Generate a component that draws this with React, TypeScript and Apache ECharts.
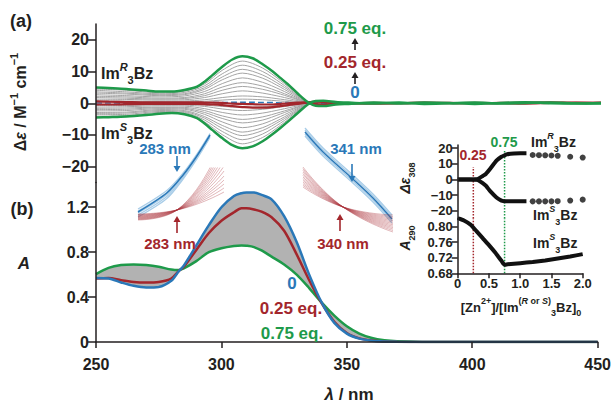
import React, { useEffect, useRef } from 'react';
import * as echarts from 'echarts';

const FONT = '"Liberation Sans", Arial, Helvetica, sans-serif';
const INK = '#231f20';
const GREEN = '#1e9a4a';
const RED = '#a3262c';
const BLUE = '#2a78b8';
const GRAY = '#a4a4a4';
const LIGHTBLUE = '#a9cde8';
const FANRED = 'rgba(170,50,58,0.45)';

// ---------- (a) CD spectra ----------
const cdX = [250,255,262,270,275,280,285,290,293,296,300,304,308,312,316,320,323,326,330,334,337,340,345,350,360,370,380,390,400,410,420,430,440,450];
const cdGreenR = [5.0,4.8,4.5,4.0,3.7,3.7,4.2,5.2,6.8,8.8,11.5,13.8,14.8,14.2,12.3,10.0,8.0,6.0,3.0,0.3,-0.8,-0.9,-0.4,-0.2,0.2,-0.1,0.2,0.1,-0.2,0.1,0.3,0.0,-0.1,0.1];
const cdGreenS = [-4.5,-4.4,-4.2,-3.7,-3.3,-3.1,-3.5,-4.7,-6.4,-8.4,-11.0,-13.2,-14.2,-13.6,-12.0,-9.7,-7.8,-5.8,-3.0,-0.3,0.7,0.8,0.4,0.2,-0.1,0.2,-0.2,0.0,0.2,-0.1,0.1,0.2,0.0,-0.1];
const cdRedR = [0.6,0.5,0.4,0.3,0.3,0.3,0.3,0.3,0.2,0.2,0.1,-0.1,-0.2,-0.3,-0.4,-0.4,-0.2,0.0,0.2,0.3,-0.3,-0.4,-0.2,0.0,0.1,0.0,0.2,0.1,0.0,0.1,0.2,0.3,0.1,0.2];
const cdRedS = [-0.4,-0.4,-0.3,-0.2,-0.2,-0.2,-0.2,-0.2,-0.3,-0.4,-0.6,-0.9,-1.2,-1.4,-1.4,-1.2,-0.9,-0.6,-0.2,0.3,0.5,0.4,0.1,0.0,-0.1,0.0,0.1,0.0,0.1,0.0,-0.1,0.1,0.2,0.1];
const cdBlue = [0.1,0.1,0.0,0.0,0.1,0.0,0.0,0.1,0.1,0.2,0.2,0.3,0.3,0.3,0.2,0.2,0.1,0.1,0.0,0.0,0,0,0,0,0,0,0,0,0,0,0,0,0,0];

const cdGrayX = [250,262,275,285,293,300,308,316,323,330,334,340,450];
const cdGrayR = [
  [4.5,4.1,3.3,3.8,6.1,10.4,13.3,11.1,7.2,2.7,0.3,0,0],
  [4.1,3.6,3.0,3.4,5.5,9.3,12.0,10.0,6.5,2.4,0.2,0,0],
  [3.6,3.2,2.7,3.0,4.9,8.3,10.7,8.9,5.8,2.2,0.2,0,0],
  [3.2,2.9,2.4,2.7,4.4,7.4,9.5,7.9,5.1,1.9,0.2,0,0],
  [2.7,2.4,2.0,2.3,3.7,6.2,8.0,6.6,4.3,1.6,0.2,0,0],
  [2.2,2.0,1.6,1.8,3.0,5.1,6.5,5.4,3.5,1.3,0.1,0,0],
  [1.8,1.6,1.3,1.5,2.4,4.1,5.3,4.4,2.9,1.1,0.1,0,0],
  [1.3,1.2,1.0,1.1,1.8,3.0,3.9,3.2,2.1,0.8,0.1,0,0],
  [0.8,0.7,0.6,0.7,1.1,1.8,2.3,2.0,1.3,0.5,0.0,0,0],
  [0.5,0.4,0.3,0.4,0.6,1.0,1.3,1.1,0.7,0.3,0.0,0,0],
];
const cdGrayS = [
  [-4.1,-3.9,-2.9,-3.2,-5.9,-9.9,-12.8,-10.8,-7.0,-2.7,-0.3,0,0],
  [-3.6,-3.5,-2.6,-2.9,-5.3,-8.9,-11.5,-9.7,-6.3,-2.4,-0.2,0,0],
  [-3.2,-3.1,-2.3,-2.6,-4.7,-7.9,-10.2,-8.6,-5.6,-2.2,-0.2,0,0],
  [-2.9,-2.8,-2.0,-2.3,-4.2,-7.0,-9.1,-7.7,-5.0,-1.9,-0.2,0,0],
  [-2.4,-2.3,-1.7,-1.9,-3.5,-5.9,-7.7,-6.5,-4.2,-1.6,-0.2,0,0],
  [-2.0,-1.9,-1.4,-1.6,-2.9,-4.8,-6.2,-5.3,-3.4,-1.3,-0.1,0,0],
  [-1.6,-1.5,-1.2,-1.3,-2.3,-4.0,-5.1,-4.3,-2.8,-1.1,-0.1,0,0],
  [-1.2,-1.1,-0.8,-0.9,-1.7,-2.9,-3.7,-3.1,-2.0,-0.8,-0.1,0,0],
  [-0.7,-0.7,-0.5,-0.6,-1.0,-1.8,-2.3,-1.9,-1.2,-0.5,0.0,0,0],
  [-0.4,-0.4,-0.3,-0.3,-0.6,-1.0,-1.3,-1.1,-0.7,-0.3,0.0,0,0],
];
const cdTicks = [-20, -10, 0, 10, 20];

// ---------- (b) absorption spectra ----------
const absX = [250,255,260,265,270,275,280,283,285,290,295,300,305,308,310,313,316,320,325,330,335,340,345,350,355,360,365,370,380,400,450];
const absBlue = [0.57,0.565,0.53,0.50,0.485,0.49,0.545,0.63,0.68,0.86,1.04,1.20,1.30,1.325,1.33,1.33,1.31,1.27,1.12,0.89,0.60,0.35,0.17,0.075,0.03,0.012,0.005,0.002,0,0,0];
const absRed = [0.565,0.57,0.55,0.535,0.53,0.535,0.565,0.632,0.67,0.82,0.97,1.08,1.155,1.19,1.19,1.18,1.16,1.11,0.99,0.78,0.55,0.345,0.18,0.08,0.032,0.013,0.005,0.002,0,0,0];
const absGreen = [0.605,0.66,0.685,0.69,0.685,0.67,0.645,0.64,0.655,0.72,0.80,0.835,0.855,0.86,0.857,0.845,0.815,0.76,0.69,0.60,0.48,0.35,0.235,0.14,0.075,0.035,0.015,0.006,0.001,0,0];
const absTicks = [0, 0.4, 0.8, 1.2];
const xTicks = [250, 300, 350, 400, 450];

// ---------- zoomed insets ----------
const inLX = [278.0, 281.0, 282.7, 284.1, 285.5];
const inLBlueDark = [0.614, 0.633, 0.651, 0.6695, 0.691];
const inLBlueLight = [
  [0.617, 0.6355, 0.653, 0.6715, 0.6925],
  [0.615, 0.6335, 0.6515, 0.6705, 0.6915],
  [0.613, 0.6315, 0.650, 0.669, 0.6905],
  [0.611, 0.6295, 0.6485, 0.668, 0.6895],
  [0.609, 0.6275, 0.647, 0.6665, 0.6885],
];
const inLFanX = [278, 282.06, 286.96];
const inLFanCross = 0.616;
const inLFanLeft = [0.612,0.6115,0.611,0.6105,0.610,0.6095,0.609,0.6085,0.608,0.6075,0.607,0.6065,0.606];
const inLFanRight = [0.634,0.638,0.642,0.646,0.650,0.655,0.660,0.665,0.670,0.675,0.680,0.685,0.690];

const inRX = [336.52, 338.4, 341.39, 343.6, 345.58];
const inRBlueDark = [0.406, 0.386, 0.360, 0.340, 0.319];
const inRBlueLight = [
  [0.410, 0.390, 0.364, 0.344, 0.323],
  [0.408, 0.388, 0.362, 0.342, 0.321],
  [0.404, 0.384, 0.358, 0.338, 0.317],
  [0.402, 0.382, 0.356, 0.336, 0.315],
];
const inRFanX = [336.31, 340.48, 345.69];
const inRFanCross = 0.331;
const inRFanLeft = [0.351,0.3527,0.3543,0.356,0.3577,0.3593,0.361,0.3627,0.3643,0.366,0.3677,0.3693,0.371];
const inRFanRight = [0.323,0.3216,0.3202,0.3188,0.3174,0.316,0.3146,0.3132,0.3118,0.3104,0.309,0.3075,0.306];

// ---------- titration inset ----------
const tDenseX = [0,0.1,0.2,0.3,0.33,0.4,0.45,0.52,0.62,0.7,0.75,0.78,0.9,1.0,1.1];
const tDenseR = [0,0,0,0.2,0.5,2.2,3.5,6.8,12,14.5,15.4,16,16.6,16.8,16.8];
const tDenseS = [0,0,0,-0.2,-0.5,-2.4,-4,-7.5,-11.5,-13.5,-13.9,-14,-14,-14,-14];
const tSparseX = [1.2,1.3,1.4,1.5,1.6,1.8,2.0];
const tSparseR = [15.6,15.5,15.4,15.3,15.1,14.5,14.0];
const tSparseS = [-14,-14,-14,-14,-13.9,-13.5,-12.9];
const tAX = [0,0.1,0.2,0.25,0.3,0.4,0.5,0.6,0.7,0.75,0.8,1.0,1.2,1.4,1.6,1.8,2.0];
const tA = [0.822,0.815,0.805,0.797,0.788,0.770,0.752,0.733,0.712,0.702,0.703,0.706,0.709,0.713,0.718,0.723,0.729];
const tDeTicks = [-20, -10, 0, 10, 20];
const tATicks = [0.68, 0.72, 0.76, 0.80];
const tXTicks = [0, 0.5, 1.0, 1.5, 2.0];
const tMarkRed = 0.25;
const tMarkGreen = 0.75;

const pairs = (xs: number[], ys: number[]) => xs.map((x, i) => [x, ys[i]]);
const minus = (v: number) => (v < 0 ? '\u2212' + Math.abs(v) : String(v));

function line(g: number, data: any[], color: string, width: number, extra: any = {}) {
  return {
    type: 'line', xAxisIndex: g, yAxisIndex: g, data, symbol: 'none', showSymbol: false,
    smooth: 0.3, silent: true, lineStyle: { color, width }, ...extra,
  };
}

function hiddenAxis(g: number, min: number, max: number) {
  return { gridIndex: g, type: 'value', min, max, show: false };
}

function visY(g: number, min: number, max: number, ticks: number[], size: number, fmt: (v: number) => string, tickLen: number, margin: number) {
  return {
    gridIndex: g, type: 'value', min, max, z: 10,
    axisLine: { show: true, lineStyle: { color: INK, width: 1.5 } },
    axisTick: { show: true, length: tickLen, customValues: ticks, lineStyle: { color: INK, width: 1.5 } },
    axisLabel: { show: true, customValues: ticks, formatter: fmt, fontSize: size, fontWeight: 'bold', fontFamily: FONT, color: INK, margin },
    splitLine: { show: false },
  };
}

function text(x: number, y: number, t: string, size: number, color: string, align = 'center', extra: any = {}) {
  return {
    type: 'text', x, y, z: 100, silent: true,
    style: { text: t, fill: color, font: `bold ${size}px ${FONT}`, textAlign: align, textVerticalAlign: 'middle', align, verticalAlign: 'middle' },
    ...extra,
  };
}

function rich(x: number, y: number, t: string, size: number, color: string, align = 'center', extra: any = {}) {
  const sm = Math.round(size * 0.66);
  const base = { fontFamily: FONT, fontWeight: 'bold', fill: color, color };
  return {
    type: 'text', x, y, z: 100, silent: true,
    style: {
      text: t, fill: color, font: `bold ${size}px ${FONT}`, textAlign: align, textVerticalAlign: 'middle', align, verticalAlign: 'middle',
      rich: {
        n: { ...base, fontSize: size, lineHeight: size + 8, verticalAlign: 'middle' },
        i: { ...base, fontSize: size, fontStyle: 'italic', lineHeight: size + 8, verticalAlign: 'middle' },
        sup: { ...base, fontSize: sm, lineHeight: sm, verticalAlign: 'top' },
        supi: { ...base, fontSize: sm, fontStyle: 'italic', lineHeight: sm, verticalAlign: 'top' },
        sub: { ...base, fontSize: sm, lineHeight: sm, verticalAlign: 'bottom' },
      },
    },
    ...extra,
  };
}

function arrow(x: number, yFrom: number, yTo: number, color: string) {
  const dir = yTo > yFrom ? 1 : -1;
  const head = 6;
  return [
    { type: 'line', z: 100, silent: true, shape: { x1: x, y1: yFrom, x2: x, y2: yTo - dir * head }, style: { stroke: color, lineWidth: 1.6 } },
    { type: 'polygon', z: 100, silent: true, shape: { points: [[x - 3.5, yTo - dir * head], [x + 3.5, yTo - dir * head], [x, yTo]] }, style: { fill: color } },
  ];
}

export default function App() {
  const ref = useRef<HTMLDivElement>(null);
  useEffect(() => {
    if (!ref.current) return;
    const chart = echarts.init(ref.current, undefined, { renderer: 'svg' });

    const absLow = absX.map((_, i) => Math.min(absBlue[i], absRed[i], absGreen[i]));
    const absHigh = absX.map((_, i) => Math.max(absBlue[i], absRed[i], absGreen[i]));

    const series: any[] = [];
    // (a)
    cdGrayR.forEach((ys) => series.push(line(0, pairs(cdGrayX, ys), GRAY, 1)));
    cdGrayS.forEach((ys) => series.push(line(0, pairs(cdGrayX, ys), GRAY, 1)));
    series.push(line(0, pairs(cdX, cdBlue), BLUE, 1.5, { lineStyle: { color: BLUE, width: 1.5, type: 'dashed' } }));
    series.push(line(0, pairs(cdX, cdRedR), RED, 2.2));
    series.push(line(0, pairs(cdX, cdRedS), RED, 2.2));
    series.push(line(0, pairs(cdX, cdGreenR), GREEN, 2.5));
    series.push(line(0, pairs(cdX, cdGreenS), GREEN, 2.5));
    // (b): gray band between the outer spectra
    series.push(line(1, pairs(absX, absHigh), GRAY, 0, { lineStyle: { width: 0, opacity: 0 }, areaStyle: { color: '#b2b2b2', opacity: 1, origin: 'start' } }));
    series.push(line(1, pairs(absX, absLow), GRAY, 0, { lineStyle: { width: 0, opacity: 0 }, areaStyle: { color: '#ffffff', opacity: 1, origin: 'start' } }));
    series.push(line(1, pairs(absX, absGreen), GREEN, 2.5));
    series.push(line(1, pairs(absX, absRed), RED, 2.5));
    series.push(line(1, pairs(absX, absBlue), BLUE, 2.5));
    // left inset
    inLBlueLight.forEach((ys) => series.push(line(2, pairs(inLX, ys), LIGHTBLUE, 1.3)));
    series.push(line(2, pairs(inLX, inLBlueDark), BLUE, 1.5));
    inLFanLeft.forEach((l, k) => series.push(line(3, pairs(inLFanX, [l, inLFanCross, inLFanRight[k]]), FANRED, 0.8, { smooth: 0.5 })));
    // right inset
    inRBlueLight.forEach((ys) => series.push(line(4, pairs(inRX, ys), LIGHTBLUE, 1.3)));
    series.push(line(4, pairs(inRX, inRBlueDark), BLUE, 1.5));
    inRFanLeft.forEach((l, k) => series.push(line(4, pairs(inRFanX, [l, inRFanCross, inRFanRight[k]]), FANRED, 0.8, { smooth: 0.5 })));
    // titration
    series.push(line(5, [[tMarkRed, -25], [tMarkRed, 8]], RED, 1.5, { smooth: false, lineStyle: { color: RED, width: 1.5, type: 'dotted' } }));
    series.push(line(6, [[tMarkRed, 0.68], [tMarkRed, 0.82]], RED, 1.5, { smooth: false, lineStyle: { color: RED, width: 1.5, type: 'dotted' } }));
    series.push(line(5, [[tMarkGreen, -25], [tMarkGreen, 19]], GREEN, 1.5, { smooth: false, lineStyle: { color: GREEN, width: 1.5, type: 'dotted' } }));
    series.push(line(6, [[tMarkGreen, 0.68], [tMarkGreen, 0.82]], GREEN, 1.5, { smooth: false, lineStyle: { color: GREEN, width: 1.5, type: 'dotted' } }));
    series.push(line(5, pairs(tDenseX, tDenseR), '#111', 4, { smooth: 0.2 }));
    series.push(line(5, pairs(tDenseX, tDenseS), '#111', 4, { smooth: 0.2 }));
    series.push(line(6, pairs(tAX, tA), '#111', 4, { smooth: 0.2 }));
    series.push({ type: 'scatter', xAxisIndex: 5, yAxisIndex: 5, data: pairs(tSparseX, tSparseR), symbolSize: 6, itemStyle: { color: '#111' }, silent: true });
    series.push({ type: 'scatter', xAxisIndex: 5, yAxisIndex: 5, data: pairs(tSparseX, tSparseS), symbolSize: 6, itemStyle: { color: '#111' }, silent: true });

    const graphic: any[] = [
      text(21, 21, '(a)', 18, INK),
      text(22, 209, '(b)', 18, INK),
      rich(20, 102, '{n|\u0394}{i|\u03b5}{n| / M}{sup|\u22121}{n| cm}{sup|\u22121}', 16, INK, 'center', { rotation: Math.PI / 2 }),
      rich(24, 263, '{i|A}', 17, INK),
      rich(349, 394, '{i|\u03bb}{n| / nm}', 17, INK),
      rich(101, 73, '{n|Im}{supi|R}{sub|3}{n|Bz}', 16, INK, 'left'),
      rich(101, 133, '{n|Im}{supi|S}{sub|3}{n|Bz}', 16, INK, 'left'),
      text(355, 28, '0.75 eq.', 17, GREEN),
      text(355, 62, '0.25 eq.', 17, RED),
      text(355, 92, '0', 17, BLUE),
      ...arrow(355, 50, 38, INK),
      ...arrow(355, 84, 72, INK),
      text(292, 283, '0', 17, BLUE),
      text(291, 308, '0.25 eq.', 17, RED),
      text(292, 333, '0.75 eq.', 17, GREEN),
      text(165, 148, '283 nm', 15, BLUE),
      ...arrow(177, 156, 172, BLUE),
      text(170, 243, '283 nm', 15, RED),
      ...arrow(177, 233, 216, RED),
      text(356, 148, '341 nm', 15, BLUE),
      ...arrow(352, 164, 182, BLUE),
      text(343, 243, '340 nm', 15, RED),
      ...arrow(340, 231, 214, RED),
      // titration inset labels
      rich(405, 178, '{i|\u0394\u03b5}{sub|308}', 14, INK, 'center', { rotation: Math.PI / 2 }),
      rich(405, 238, '{i|A}{sub|290}', 14, INK, 'center', { rotation: Math.PI / 2 }),
      text(504, 142, '0.75', 14, GREEN),
      rich(531, 142, '{n|Im}{supi|R}{sub|3}{n|Bz}', 14, INK, 'left'),
      text(473, 155, '0.25', 14, RED),
      rich(533, 215, '{n|Im}{supi|S}{sub|3}{n|Bz}', 14, INK, 'left'),
      rich(533, 243, '{n|Im}{supi|S}{sub|3}{n|Bz}', 14, INK, 'left'),
      rich(521, 307, '{n|[Zn}{sup|2+}{n|]/[Im}{sup|(}{supi|R}{sup| or }{supi|S}{sup|)}{sub|3}{n|Bz]}{sub|0}', 13, INK),
    ];

    const option: any = {
      animation: false,
      backgroundColor: '#ffffff',
      grid: [
        { left: 96, top: 24, width: 505, height: 158.5 },
        { left: 96, top: 182.5, width: 505, height: 159.5 },
        { left: 138, top: 126, width: 96, height: 100 },
        { left: 138, top: 168, width: 86, height: 56 },
        { left: 300, top: 128, width: 96, height: 110 },
        { left: 457.7, top: 145, width: 125, height: 73.6 },
        { left: 457.7, top: 218.6, width: 125, height: 54.7 },
      ],
      xAxis: [
        hiddenAxis(0, 250, 450),
        {
          gridIndex: 1, type: 'value', min: 250, max: 450, interval: 50, z: 10,
          axisLine: { show: true, lineStyle: { color: INK, width: 1.5 } },
          axisTick: { show: true, length: 6, customValues: xTicks, lineStyle: { color: INK, width: 1.5 } },
          axisLabel: { show: true, customValues: xTicks, fontSize: 16, fontWeight: 'bold', fontFamily: FONT, color: INK, margin: 14 },
          splitLine: { show: false },
        },
        hiddenAxis(2, 278, 288),
        hiddenAxis(3, 278, 286.96),
        hiddenAxis(4, 336, 346),
        hiddenAxis(5, 0, 2),
        {
          gridIndex: 6, type: 'value', min: 0, max: 2, interval: 0.5, z: 10,
          axisLine: { show: true, lineStyle: { color: INK, width: 1.5 } },
          axisTick: { show: true, length: 5, customValues: tXTicks, lineStyle: { color: INK, width: 1.5 } },
          axisLabel: { show: true, customValues: tXTicks, formatter: (v: number) => (v === 0 ? '0' : v.toFixed(1)), fontSize: 13, fontWeight: 'bold', fontFamily: FONT, color: INK, margin: 4 },
          splitLine: { show: false },
        },
      ],
      yAxis: [
        visY(0, -25, 25, cdTicks, 16, minus, 8, 7),
        visY(1, 0, 1.42, absTicks, 16, (v: number) => String(v), 8, 7),
        hiddenAxis(2, 0.60, 0.70),
        hiddenAxis(3, 0.602, 0.658),
        hiddenAxis(4, 0.30, 0.41),
        visY(5, -25, 22, tDeTicks, 13, minus, 6, 5),
        visY(6, 0.68, 0.82, tATicks, 13, (v: number) => v.toFixed(2), 6, 5),
      ],
      series,
      graphic,
    };
    chart.setOption(option);
    return () => chart.dispose();
  }, []);
  return <div ref={ref} style={{ position: 'fixed', left: 0, top: 0, width: 614, height: 402, background: '#fff' }} />;
}
